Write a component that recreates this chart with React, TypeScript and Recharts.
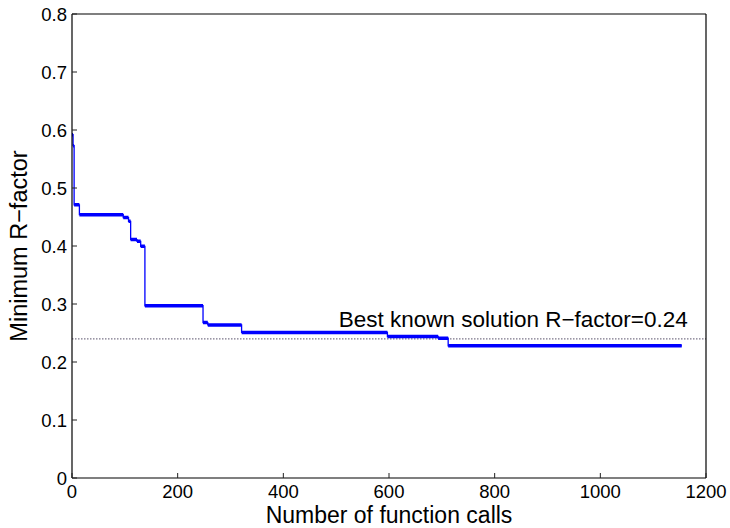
import React from "react";
import {
  LineChart,
  Line,
  XAxis,
  YAxis,
  ReferenceLine,
  ReferenceDot,
} from "recharts";

// step starts (number of function calls) and the best R-factor found from there on
const callCounts = [0, 2, 4, 14, 97, 107, 111, 123, 130, 138, 248, 257, 321, 597, 693, 712];
const minRFactor = [
  0.592, 0.573, 0.471, 0.454, 0.449, 0.4425, 0.411, 0.408, 0.3995, 0.297, 0.268, 0.264, 0.251,
  0.244, 0.241, 0.228,
];
const lastCall = 1154;

const bestKnownR = 0.24;
const bestKnownText = "Best known solution R\u2212factor=0.24";
const bestKnownTextAt = [505, 0.26];

const xTicks = [0, 200, 400, 600, 800, 1000, 1200];
const yTicks = [0, 0.1, 0.2, 0.3, 0.4, 0.5, 0.6, 0.7, 0.8];

const FONT = "'Liberation Sans', Arial, Helvetica, sans-serif";
const TICK = 5;

// thin staircase through every step
const stairData = [
  ...callCounts.map((x, i) => ({ x, r: minRFactor[i] })),
  { x: lastCall, r: minRFactor[minRFactor.length - 1] },
];

// heavy horizontal runs (MATLAB drew these dense with markers)
const runData = callCounts.flatMap((x, i) => {
  const end = i + 1 < callCounts.length ? callCounts[i + 1] : lastCall;
  return [
    { x, r: minRFactor[i] },
    { x: end, r: minRFactor[i] },
    { x: end, r: null },
  ];
});

const fmtY = (v: number) => String(Number(v.toFixed(1)));

function BottomTick({ x, y, payload }: any) {
  return (
    <g>
      <line x1={x} x2={x} y1={y} y2={y - TICK} stroke="#222" />
      <text x={x} y={y + 7} dy="0.71em" textAnchor="middle" fontSize={18.5} fontFamily={FONT} fill="#000">
        {payload.value}
      </text>
    </g>
  );
}

function TopTick({ x, y }: any) {
  return <line x1={x} x2={x} y1={y} y2={y + TICK} stroke="#222" />;
}

function LeftTick({ x, y, payload }: any) {
  return (
    <g>
      <line x1={x} x2={x + TICK} y1={y} y2={y} stroke="#222" />
      <text x={x - 5} y={y} dy="0.36em" textAnchor="end" fontSize={18.5} fontFamily={FONT} fill="#000">
        {fmtY(payload.value)}
      </text>
    </g>
  );
}

function RightTick({ x, y }: any) {
  return <line x1={x} x2={x - TICK} y1={y} y2={y} stroke="#222" />;
}

export default function App() {
  return (
    <div style={{ position: "absolute", left: 0, top: 0, width: 730, height: 528, background: "#fff" }}>
      <LineChart width={730} height={528} margin={{ top: 13, right: 23, bottom: 49, left: 71 }}>
        <XAxis
          dataKey="x"
          type="number"
          domain={[0, 1200]}
          ticks={xTicks}
          interval={0}
          height={1}
          tickSize={0}
          tickMargin={0}
          tick={<BottomTick />}
          axisLine={{ stroke: "#000", strokeWidth: 1.2 }}
          label={{
            content: (p: any) => {
              const vb = p.viewBox;
              return (
                <text x={vb.x + vb.width / 2} y={vb.y + 45} textAnchor="middle" fontSize={23} fontFamily={FONT} fill="#000">
                  Number of function calls
                </text>
              );
            },
          }}
        />
        <XAxis
          xAxisId="top"
          orientation="top"
          type="number"
          domain={[0, 1200]}
          ticks={xTicks}
          interval={0}
          height={1}
          tickSize={0}
          tickMargin={0}
          tick={<TopTick />}
          axisLine={{ stroke: "#000", strokeWidth: 1.2 }}
        />
        <YAxis
          type="number"
          domain={[0, 0.8]}
          ticks={yTicks}
          interval={0}
          width={1}
          tickSize={0}
          tickMargin={0}
          tick={<LeftTick />}
          axisLine={{ stroke: "#000", strokeWidth: 1.2 }}
          label={{
            content: (p: any) => {
              const vb = p.viewBox;
              return (
                <text
                  transform={`translate(${vb.x + vb.width - 45}, ${vb.y + vb.height / 2}) rotate(-90)`}
                  textAnchor="middle"
                  fontSize={23.5}
                  fontFamily={FONT}
                  fill="#000"
                >
                  Minimum R{"\u2212"}factor
                </text>
              );
            },
          }}
        />
        <YAxis
          yAxisId="right"
          orientation="right"
          type="number"
          domain={[0, 0.8]}
          ticks={yTicks}
          interval={0}
          width={1}
          tickSize={0}
          tickMargin={0}
          tick={<RightTick />}
          axisLine={{ stroke: "#000", strokeWidth: 1.2 }}
        />
        <ReferenceLine y={bestKnownR} stroke="#7a7488" strokeWidth={1.2} strokeDasharray="1.5 1.5" />
        <Line
          data={stairData}
          dataKey="r"
          type="stepAfter"
          stroke="#0000ff"
          strokeWidth={1.3}
          dot={false}
          isAnimationActive={false}
        />
        <Line
          data={runData}
          dataKey="r"
          type="linear"
          stroke="#0000ff"
          strokeWidth={3.5}
          dot={false}
          connectNulls={false}
          isAnimationActive={false}
        />
        <ReferenceDot
          x={bestKnownTextAt[0]}
          y={bestKnownTextAt[1]}
          r={0}
          shape={(p: any) => (
            <text x={p.cx} y={p.cy} fontSize={22.5} fontFamily={FONT} fill="#000">
              {bestKnownText}
            </text>
          )}
        />
      </LineChart>
    </div>
  );
}
